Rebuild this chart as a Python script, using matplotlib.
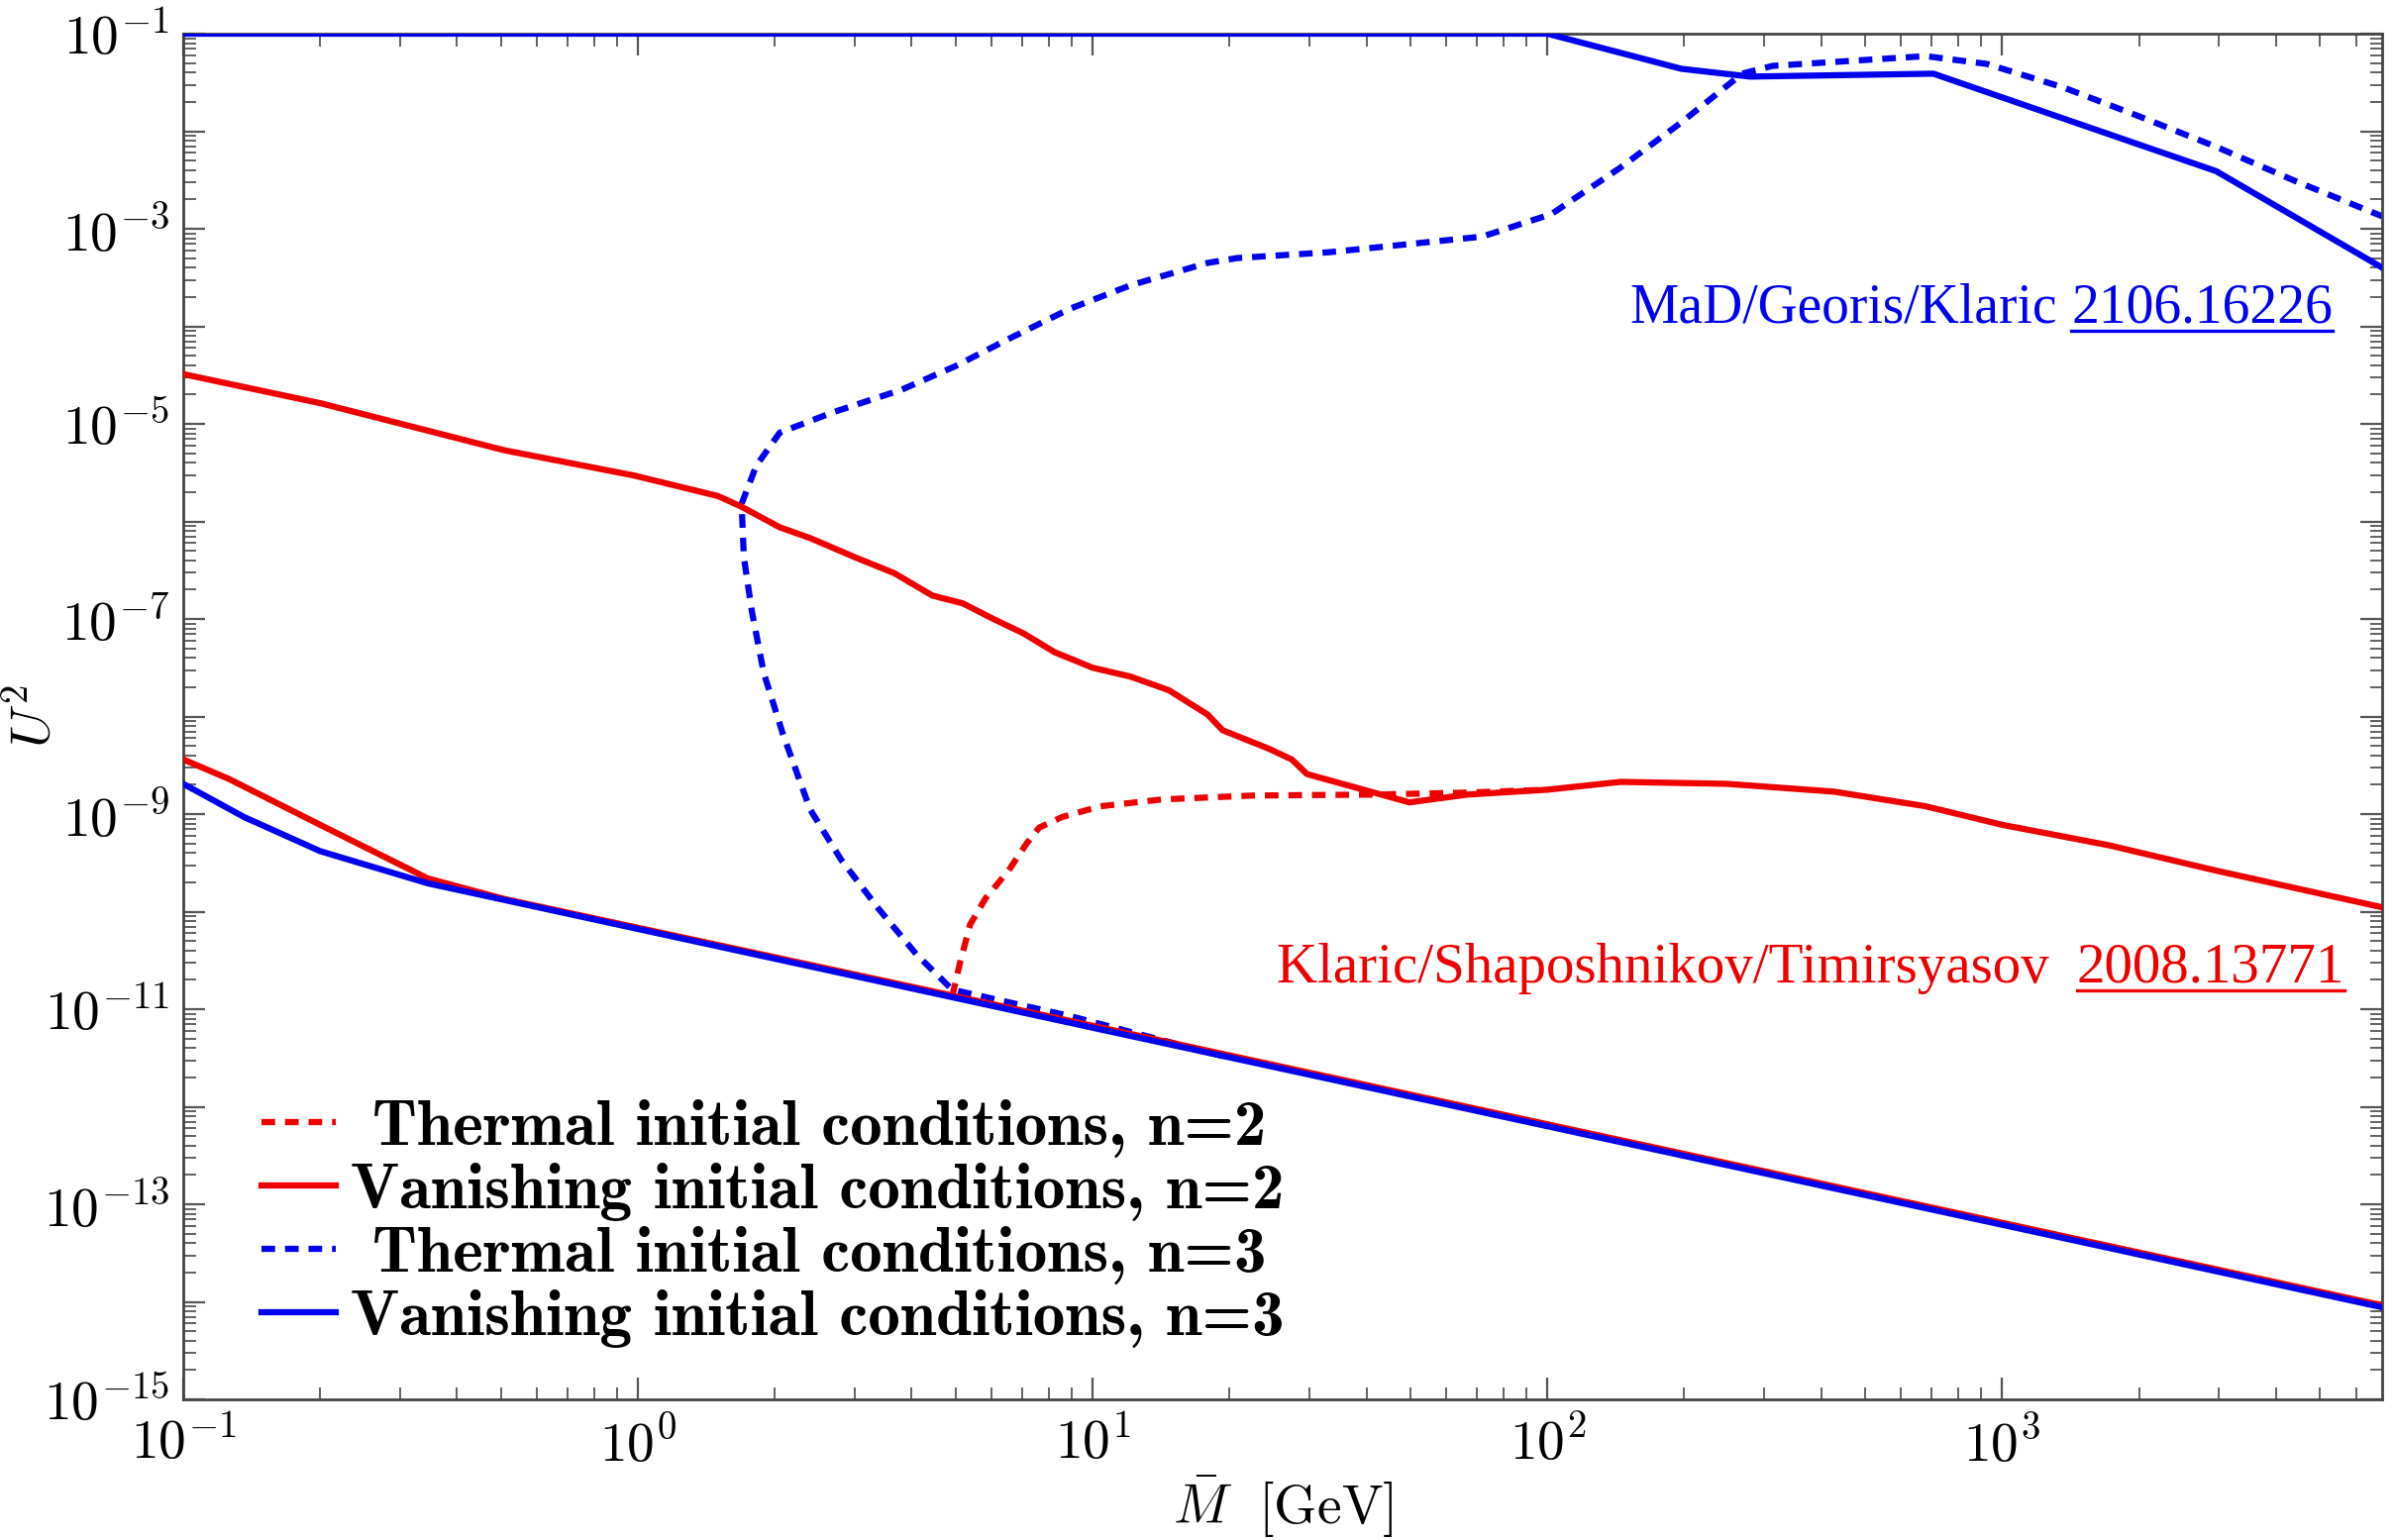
import numpy as np
import matplotlib
matplotlib.use("Agg")
import matplotlib.pyplot as plt
from matplotlib.ticker import LogLocator, FuncFormatter, NullFormatter
from matplotlib.lines import Line2D

plt.rcParams['mathtext.fontset'] = 'cm'
plt.rcParams['font.family'] = ['cmr10', 'DejaVu Serif']
plt.rcParams['axes.formatter.use_mathtext'] = True

# ---------------- data (log10 values) ----------------
# Vanishing initial conditions, n=3 (blue solid) - upper bound
m_van3_up = [0.1, 100, 197, 279, 706, 2958, 6918]
u_van3_up = [-1.0, -1.0, -1.36, -1.44, -1.41, -2.41, -3.41]
# Vanishing initial conditions, n=3 (blue solid) - lower bound
m_van3_lo = [0.1, 0.136, 0.2, 0.345, 10, 1000, 6918]
u_van3_lo = [-8.69, -9.03, -9.38, -9.71, -11.19, -13.21, -14.06]
# Vanishing initial conditions, n=2 (red solid) - upper bound
m_van2_up = [0.1, 0.201, 0.508, 0.982, 1.5, 1.69, 2.05, 2.39, 3.01, 3.66, 4.44, 5.18,
             6.05, 7.06, 8.24, 10.0, 12.1, 14.7, 17.9, 19.3, 24.4, 27.4, 29.6, 38.7,
             49.7, 66.7, 100, 145, 248, 427, 679, 1000, 1718, 2958, 6918]
u_van2_up = [-4.49, -4.79, -5.27, -5.53, -5.74, -5.85, -6.06, -6.17, -6.37, -6.53, -6.76, -6.84,
             -7.00, -7.15, -7.34, -7.50, -7.59, -7.73, -7.98, -8.14, -8.33, -8.44, -8.59, -8.74,
             -8.88, -8.80, -8.75, -8.67, -8.69, -8.77, -8.92, -9.11, -9.32, -9.58, -9.96]
# Vanishing initial conditions, n=2 (red solid) - lower bound
m_van2_lo = [0.1, 0.126, 0.2, 0.345, 0.508, 10, 1000, 6918]
u_van2_lo = [-8.44, -8.64, -9.11, -9.66, -9.87, -11.17, -13.19, -14.04]
# Thermal initial conditions, n=2 (red dotted)
m_th2 = [4.91, 5.11, 5.38, 5.82, 6.53, 7.16, 7.62, 8.57, 10.4, 14.2, 22.5, 41.9, 66.7, 100]
u_th2 = [-10.87, -10.52, -10.13, -9.86, -9.58, -9.30, -9.14, -9.03, -8.92, -8.85, -8.81,
         -8.80, -8.78, -8.75]
# Thermal initial conditions, n=3 (blue dotted)
m_th3 = [19.3, 8.91, 4.91, 4.10, 3.38, 2.79, 2.39, 2.08, 1.89, 1.78, 1.71, 1.69, 1.82,
         2.05, 2.69, 3.80, 4.98, 6.53, 8.91, 12.1, 17.9, 20.8, 33.2, 48.9, 71.9, 102,
         144, 197, 268, 313, 461, 679, 925, 1361, 2008, 2958, 4357, 6918]
u_th3 = [-11.48, -11.07, -10.80, -10.44, -9.97, -9.46, -8.95, -8.17, -7.55, -6.92, -6.37,
         -5.82, -5.43, -5.09, -4.88, -4.65, -4.41, -4.13, -3.82, -3.58, -3.35, -3.30, -3.24,
         -3.16, -3.08, -2.85, -2.38, -1.91, -1.41, -1.33, -1.28, -1.23, -1.31, -1.55, -1.85,
         -2.16, -2.50, -2.88]

labels = [" Thermal initial conditions, n=2", "Vanishing initial conditions, n=2",
          " Thermal initial conditions, n=3", "Vanishing initial conditions, n=3"]
ref_blue = ("MaD/Georis/Klaric", "2106.16226")
ref_red = ("Klaric/Shaposhnikov/Timirsyasov ", "2008.13771")

# ---------------- figure ----------------
RED = '#ee0000'
BLUE = '#0000ee'
LW = 4.5
DOT = (0, (2.2, 1.6))

fig = plt.figure(figsize=(24.18, 15.55), dpi=100)
ax = fig.add_axes([185/2418, 1-1413/1555, (2405-185)/2418, (1413-34)/1555])

p = lambda v: 10.0**np.asarray(v)
ax.plot(m_th2, p(u_th2), color=RED, lw=LW, ls=DOT, zorder=2)
ax.plot(m_van2_up, p(u_van2_up), color=RED, lw=LW, zorder=3)
ax.plot(m_van2_lo, p(u_van2_lo), color=RED, lw=LW, zorder=3)
ax.plot(m_th3, p(u_th3), color=BLUE, lw=LW, ls=DOT, zorder=2)
ax.plot(m_van3_up, p(u_van3_up), color=BLUE, lw=LW, zorder=4)
ax.plot(m_van3_lo, p(u_van3_lo), color=BLUE, lw=LW, zorder=4)

ax.set_xscale('log')
ax.set_yscale('log')
ax.set_xlim(0.1, 6850)
ax.set_ylim(1e-15, 1e-1)

ax.xaxis.set_major_locator(LogLocator(base=10, numticks=20))
ax.xaxis.set_minor_locator(LogLocator(base=10, subs=np.arange(2, 10), numticks=200))
ax.yaxis.set_major_locator(LogLocator(base=10, numticks=30))
ax.yaxis.set_minor_locator(LogLocator(base=10, subs=np.arange(2, 10), numticks=300))
ax.xaxis.set_minor_formatter(NullFormatter())
ax.yaxis.set_minor_formatter(NullFormatter())

def xfmt(v, pos):
    e = int(round(np.log10(v)))
    return r'$10^{%d}$' % e

def yfmt(v, pos):
    e = int(round(np.log10(v)))
    return r'$10^{%d}$' % e if e % 2 != 0 else ''

ax.xaxis.set_major_formatter(FuncFormatter(xfmt))
ax.yaxis.set_major_formatter(FuncFormatter(yfmt))

ax.tick_params(which='both', direction='in', top=True, right=True, color='#555555')
ax.tick_params(which='major', length=16, width=1.6, labelsize=40, pad=10)
ax.tick_params(axis='x', which='major', pad=13)
ax.tick_params(which='minor', length=9, width=1.3)
for s in ax.spines.values():
    s.set_color('#444444')
    s.set_linewidth(2.0)

ax.set_xlabel(r'$\bar{M}\ \ [\mathrm{GeV}]$', fontsize=40, labelpad=1)
ax.set_ylabel(r'$U^2$', fontsize=40)
ax.yaxis.set_label_coords(-0.056, 0.5)

handles = [Line2D([], [], color=RED, lw=LW, ls=DOT),
           Line2D([], [], color=RED, lw=LW),
           Line2D([], [], color=BLUE, lw=LW, ls=DOT),
           Line2D([], [], color=BLUE, lw=LW)]
leg = ax.legend(handles, labels, loc='lower left', bbox_to_anchor=(0.024, 0.019),
                frameon=False, handlelength=1.15, handletextpad=0.22, labelspacing=0.075,
                borderaxespad=0, prop={'family': 'cmb10', 'size': 47})

# reference annotations with underlined arXiv numbers
fig.canvas.draw()
renderer = fig.canvas.get_renderer()

def ref_text(parts, x_right, y_base, color, size):
    name, num = parts
    t2 = fig.text(x_right/2418, 1-y_base/1555, num, color=color, ha='right', va='baseline',
                  fontsize=size, family='Liberation Serif')
    bb = t2.get_window_extent(renderer)
    x0 = bb.x0 / fig.bbox.width
    x1 = bb.x1 / fig.bbox.width
    yl = 1 - (y_base + 8) / 1555
    fig.add_artist(Line2D([x0, x1], [yl, yl], transform=fig.transFigure, color=color, lw=2.4))
    fig.text(x0 - 14/2418, 1-y_base/1555, name, color=color, ha='right', va='baseline',
             fontsize=size, family='Liberation Serif')

ref_text(ref_blue, 2355, 326, BLUE, 40)
ref_text(ref_red, 2367, 992, RED, 41)

fig.savefig('out.png', dpi=100)
